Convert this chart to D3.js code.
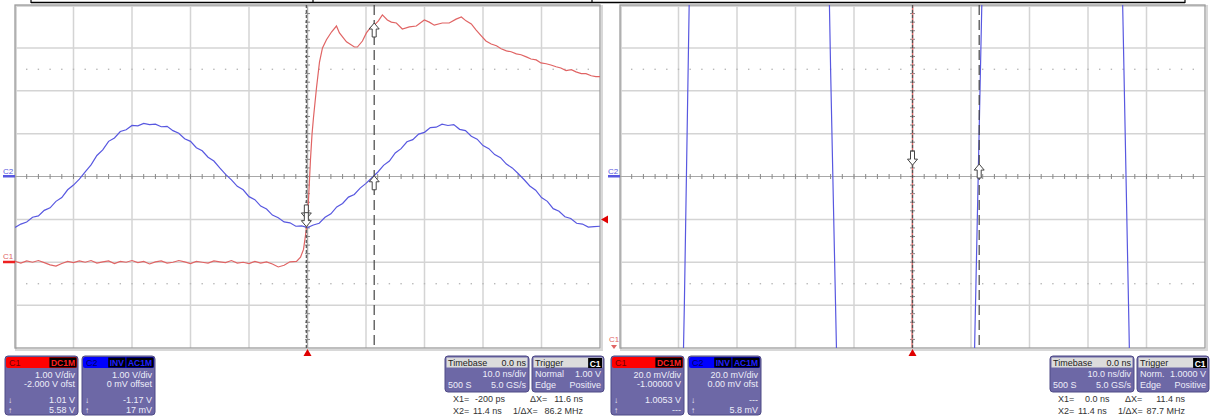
<!DOCTYPE html>
<html>
<head>
<meta charset="utf-8">
<script src="https://cdnjs.cloudflare.com/ajax/libs/d3/7.8.5/d3.min.js"></script>
<style>
  body { margin: 0; background: #fff; }
  svg text { font-family: "Liberation Sans", Arial, sans-serif; font-size: 9px; }
  .grid { stroke: #d4d4d4; stroke-width: 1.5; }
  .boxtext { fill: #eeeefa; }
  .readout { fill: #333; }
</style>
</head>
<body>
<svg width="1211" height="419"></svg>
<script>
// time axis, ns (10 ns/div, 10 divisions)
var timeDomain = [-50, 50];

// C1 (red) trace, [ns, V]
var c1Trace = [
  [-50, 0.02], [-49, -0.02], [-48, 0.03], [-47, 0.00], [-46, 0.04], [-45, -0.01],
  [-44, -0.06], [-43, -0.09], [-42, -0.03], [-41, 0.02], [-40, -0.01], [-39, 0.03],
  [-38, 0.00], [-37, 0.04], [-36, -0.02], [-35, 0.01], [-34, 0.03], [-33, -0.03],
  [-32, 0.02], [-31, 0.00], [-30, 0.04], [-29, -0.01], [-28, 0.02], [-27, -0.04],
  [-26, 0.01], [-25, 0.03], [-24, -0.02], [-23, 0.00], [-22, 0.04], [-21, 0.01],
  [-20, -0.03], [-19, 0.02], [-18, 0.00], [-17, -0.02], [-16, 0.03], [-15, 0.01],
  [-14, -0.01], [-13, 0.04], [-12, -0.02], [-11, 0.00], [-10, -0.03], [-9, 0.02],
  [-8, -0.02], [-7, 0.01], [-6, -0.04], [-5, -0.11], [-4, -0.07], [-3, 0.01],
  [-1.88, 0.02], [-1.19, 0.12], [-0.68, 0.30], [-0.34, 0.63], [0, 1.00],
  [0.26, 1.70], [0.51, 2.40], [0.77, 2.98], [1.02, 3.37], [1.54, 4.07],
  [2.05, 4.67], [2.56, 5.00], [3.24, 5.19], [4.10, 5.37], [4.95, 5.51],
  [5.46, 5.35], [6.66, 5.14], [8.02, 5.02], [8.53, 5.02], [9.39, 5.16],
  [10.07, 5.35], [10.75, 5.47], [11.43, 5.53], [12.12, 5.63], [12.80, 5.77],
  [13.65, 5.65], [14.33, 5.60], [15.19, 5.58], [16.21, 5.44], [17.41, 5.49],
  [18.60, 5.51], [19.97, 5.65], [20.82, 5.60], [21.67, 5.53], [23.04, 5.58],
  [24.23, 5.58], [25.4, 5.67], [26.3, 5.72], [27.1, 5.63], [28.0, 5.56],
  [28.8, 5.42], [29.7, 5.28], [30.5, 5.16], [31.4, 5.09], [32.3, 5.05],
  [33.1, 4.98], [34.0, 4.93], [34.8, 4.91], [35.7, 4.86], [36.5, 4.84],
  [37.4, 4.79], [38.2, 4.74], [39.1, 4.72], [39.9, 4.65], [40.8, 4.63],
  [41.6, 4.60], [42.5, 4.56], [43.3, 4.53], [44.2, 4.47], [45.1, 4.49],
  [45.9, 4.44], [46.8, 4.40], [47.6, 4.40], [48.5, 4.35], [49.3, 4.33], [50, 4.33]
];

// C2 (blue) trace, [ns, V]
var c2Trace = [
  [-50, -1.19], [-49, -1.11], [-48, -1.06], [-47, -0.95], [-46, -0.92], [-45, -0.79],
  [-44, -0.73], [-43, -0.58], [-42, -0.49], [-41, -0.31], [-40, -0.20], [-39, -0.06],
  [-38, 0.11], [-37, 0.27], [-36, 0.49], [-35, 0.62], [-34, 0.82], [-33, 0.90],
  [-32, 1.05], [-31, 1.09], [-30, 1.19], [-29, 1.18], [-28, 1.24], [-27, 1.21],
  [-26, 1.22], [-25, 1.16], [-24, 1.17], [-23, 1.07], [-22, 1.01], [-21, 0.88],
  [-20, 0.82], [-19, 0.67], [-18, 0.60], [-17, 0.45], [-16, 0.36], [-15, 0.20],
  [-14, 0.05], [-13, -0.08], [-12, -0.23], [-11, -0.31], [-10, -0.47], [-9, -0.54],
  [-8, -0.69], [-7, -0.76], [-6, -0.90], [-5, -0.96], [-4, -1.06], [-3, -1.08],
  [-2, -1.16], [-1, -1.15], [0, -1.19], [1, -1.13], [2, -1.09], [3, -0.95],
  [4, -0.87], [5, -0.71], [6, -0.63], [7, -0.48], [8, -0.42], [9, -0.27],
  [10, -0.16], [11, -0.03], [12, 0.10], [13, 0.26], [14, 0.36], [15, 0.55],
  [16, 0.65], [17, 0.81], [18, 0.86], [19, 0.99], [20, 1.03], [21, 1.14],
  [22, 1.15], [23, 1.22], [24, 1.19], [25, 1.21], [26, 1.10], [27, 1.07],
  [28, 0.94], [29, 0.87], [30, 0.72], [31, 0.65], [32, 0.51], [33, 0.44],
  [34, 0.29], [35, 0.20], [36, 0.07], [37, -0.07], [38, -0.22], [39, -0.32],
  [40, -0.49], [41, -0.58], [42, -0.75], [43, -0.81], [44, -0.94], [45, -0.98],
  [46, -1.09], [47, -1.11], [48, -1.18], [49, -1.17], [50, -1.16]
];

// per panel settings: [left, right]
var c1VoltsPerDiv = [1.0, 0.02];
var c1Offset = [-2.0, -1.0];
var c2VoltsPerDiv = [1.0, 0.02];
var c2Offset = [0, 0];
var cursorX1 = [-0.2, 0.0];
var cursorX2 = [11.4, 11.4];
var triggerLevel = [1.00, 1.0000];
// cursor readings [X1, X2] (null = not shown)
var c1Readings = [[1.01, 5.58], [1.0053, null]];
var c2Readings = [[-1.17, 0.017], [null, 0.0058]];

// info box texts
var c1BoxText = [
  ["1.00 V/div", "-2.000 V ofst", "1.01 V", "5.58 V"],
  ["20.0 mV/div", "-1.00000 V", "1.0053 V", "---"]
];
var c2BoxText = [
  ["1.00 V/div", "0 mV offset", "-1.17 V", "17 mV"],
  ["20.0 mV/div", "0.00 mV ofst", "---", "5.8 mV"]
];
var timebaseText = [["0.0 ns", "10.0 ns/div", "500 S", "5.0 GS/s"], ["0.0 ns", "10.0 ns/div", "500 S", "5.0 GS/s"]];
var triggerText = [["Normal", "1.00 V", "Edge", "Positive"], ["Norm.", "1.0000 V", "Edge", "Positive"]];
var cursorText = [
  ["-200 ps", "11.6 ns", "11.4 ns", "86.2 MHz"],
  ["0.0 ns", "11.4 ns", "11.4 ns", "87.7 MHz"]
];

var svg = d3.select("svg");
var plotTop = 5, plotBottom = 348;
var panelX = [[15, 600], [620, 1205]];
var chanBoxX = [[5, 82], [611, 688]];
var tbBoxX = [445, 1050];
var cursorTextX = [[8, 30, 85, 138, 8, 28, 68], [8, 35, 75, 135, 8, 28, 68]];
var red = "#e06464", blue = "#5858e0";
var boxFill = "#6d68a6", boxStroke = "#4f4a86";

// top table edge
svg.append("line").attr("x1", 31).attr("x2", 1185).attr("y1", 2.5).attr("y2", 2.5)
  .attr("stroke", "#000").attr("stroke-width", 1.5);
[31, 313, 592, 1185].forEach(function (xx) {
  svg.append("line").attr("x1", xx).attr("x2", xx).attr("y1", 0).attr("y2", 3)
    .attr("stroke", "#000").attr("stroke-width", 1.2);
});

function arrowPath(dir) {
  // tip at 0,0
  var s = dir === "up" ? 1 : -1;
  return "M0,0 L5," + (6 * s) + " L2," + (6 * s) + " L2," + (14 * s) + " L-2," + (14 * s) +
    " L-2," + (6 * s) + " L-5," + (6 * s) + " Z";
}

function interp(trace, t) {
  for (var k = 1; k < trace.length; k++) {
    if (trace[k][0] >= t) {
      var a = trace[k - 1], b = trace[k];
      return a[1] + (b[1] - a[1]) * (t - a[0]) / (b[0] - a[0]);
    }
  }
  return trace[trace.length - 1][1];
}

function drawPanel(i) {
  var x0 = panelX[i][0], x1 = panelX[i][1];
  var g = svg.append("g");
  var x = d3.scaleLinear().domain(timeDomain).range([x0, x1]);
  var div = d3.scaleLinear().domain([-4, 4]).range([plotBottom, plotTop]);
  var c1Mid = -c1Offset[i], c2Mid = -c2Offset[i];
  var yC1 = d3.scaleLinear().domain([c1Mid - 4 * c1VoltsPerDiv[i], c1Mid + 4 * c1VoltsPerDiv[i]]).range([plotBottom, plotTop]);
  var yC2 = d3.scaleLinear().domain([c2Mid - 4 * c2VoltsPerDiv[i], c2Mid + 4 * c2VoltsPerDiv[i]]).range([plotBottom, plotTop]);

  // shadow of the frame
  g.append("rect").attr("x", x0 + 1).attr("y", plotTop + 1).attr("width", x1 - x0 + 1).attr("height", plotBottom - plotTop + 1)
    .attr("fill", "none").attr("stroke", "#d8d8d8").attr("stroke-width", 2);

  // grid
  g.selectAll(".vg").data(d3.range(timeDomain[0] + 10, timeDomain[1], 10)).enter().append("line")
    .attr("class", "grid").attr("x1", x).attr("x2", x).attr("y1", plotTop).attr("y2", plotBottom);
  g.selectAll(".hg").data([-3, -2, -1, 1, 2, 3]).enter().append("line")
    .attr("class", "grid").attr("y1", div).attr("y2", div).attr("x1", x0).attr("x2", x1);

  // dotted lines at +-2.5 div
  [-2.5, 2.5].forEach(function (dv) {
    g.selectAll(null).data(d3.range(timeDomain[0] + 2, timeDomain[1], 2)).enter().append("rect")
      .attr("x", function (d) { return x(d) - 0.7; }).attr("y", div(dv) - 0.7)
      .attr("width", 1.4).attr("height", 1.4).attr("fill", "#b8b8b8");
  });

  // center axes with minor ticks
  g.append("line").attr("x1", x0).attr("x2", x1).attr("y1", div(0)).attr("y2", div(0))
    .attr("stroke", "#a8a8a8").attr("stroke-width", 1.2);
  g.append("line").attr("x1", x(0)).attr("x2", x(0)).attr("y1", plotTop).attr("y2", plotBottom)
    .attr("stroke", "#a8a8a8").attr("stroke-width", 1.2);
  g.selectAll(null).data(d3.range(timeDomain[0] + 2, timeDomain[1], 2)).enter().append("line")
    .attr("x1", x).attr("x2", x).attr("y1", div(0) - 2.5).attr("y2", div(0) + 2.5)
    .attr("stroke", "#888").attr("stroke-width", 1);
  g.selectAll(null).data(d3.range(-3.8, 4, 0.2)).enter().append("line")
    .attr("y1", div).attr("y2", div).attr("x1", x(0) - 2.5).attr("x2", x(0) + 2.5)
    .attr("stroke", "#888").attr("stroke-width", 1);

  // frame
  g.append("rect").attr("x", x0).attr("y", plotTop).attr("width", x1 - x0).attr("height", plotBottom - plotTop)
    .attr("fill", "none").attr("stroke", "#9c9c9c").attr("stroke-width", 1.3);

  // traces
  var clipId = "clip" + i;
  svg.append("defs").append("clipPath").attr("id", clipId).append("rect")
    .attr("x", x0).attr("y", plotTop).attr("width", x1 - x0).attr("height", plotBottom - plotTop);
  var tg = g.append("g").attr("clip-path", "url(#" + clipId + ")");
  tg.append("path").datum(c2Trace).attr("fill", "none").attr("stroke", blue).attr("stroke-width", 1.2)
    .attr("d", d3.line().x(function (d) { return x(d[0]); }).y(function (d) { return yC2(d[1]); }));
  tg.append("path").datum(c1Trace).attr("fill", "none").attr("stroke", red).attr("stroke-width", 1.2)
    .attr("d", d3.line().x(function (d) { return x(d[0]); }).y(function (d) { return yC1(d[1]); }));

  // cursors
  g.append("line").attr("x1", x(cursorX1[i])).attr("x2", x(cursorX1[i])).attr("y1", plotTop).attr("y2", plotBottom)
    .attr("stroke", "#555").attr("stroke-width", 1.2).attr("stroke-dasharray", "3,2");
  g.append("line").attr("x1", x(cursorX2[i])).attr("x2", x(cursorX2[i])).attr("y1", plotTop).attr("y2", plotBottom)
    .attr("stroke", "#444").attr("stroke-width", 1.2).attr("stroke-dasharray", "10,5");

  // cursor arrows
  var marks = [];
  [0, 1].forEach(function (k) {
    var t = k === 0 ? cursorX1[i] : cursorX2[i];
    var dir = k === 0 ? "down" : "up";
    if (c1Readings[i][k] !== null) marks.push({ x: x(t), y: yC1(c1Readings[i][k]), dir: dir });
    if (c2Readings[i][k] !== null) marks.push({ x: x(t), y: yC2(c2Readings[i][k]), dir: dir });
  });
  g.selectAll(".arr").data(marks).enter().append("path")
    .attr("transform", function (d) { return "translate(" + d.x + "," + d.y + ")"; })
    .attr("d", function (d) { return arrowPath(d.dir); })
    .attr("fill", "#fff").attr("stroke", "#444").attr("stroke-width", 1);

  // channel ground markers
  var gnd2 = yC2(0);
  g.append("text").attr("x", x0 - 12).attr("y", gnd2 - 3).attr("fill", blue).style("font-size", "8px").text("C2");
  g.append("rect").attr("x", x0 - 12).attr("y", gnd2 - 1.5).attr("width", 12).attr("height", 2.5).attr("fill", blue);
  var gnd1 = yC1(0);
  if (gnd1 <= plotBottom) {
    g.append("text").attr("x", x0 - 12).attr("y", gnd1 - 3).attr("fill", red).style("font-size", "8px").text("C1");
    g.append("rect").attr("x", x0 - 12).attr("y", gnd1 - 1.5).attr("width", 12).attr("height", 2.5).attr("fill", "#ee2020");
  } else {
    g.append("text").attr("x", x0 - 11).attr("y", plotBottom - 6).attr("fill", red).style("font-size", "8px").text("C1");
    g.append("path").attr("d", "M" + (x0 - 9) + "," + (plotBottom - 3) + " l3,4 l3,-4 Z").attr("fill", red);
  }

  // trigger position / level markers
  g.append("path").attr("d", "M" + x(0) + "," + (plotBottom + 1) + " l-4,7 l8,0 Z").attr("fill", "#e00000");
  if (i === 0) {
    var ty = yC1(triggerLevel[i]);
    g.append("path").attr("d", "M" + (x1 + 1) + "," + ty + " l7,-4 l0,8 Z").attr("fill", "#e00000");
  }

  // info boxes
  chanBox(chanBoxX[i][0], "#ff0000", "C1", "#700000", ["DC1M"], "#ff2020", c1BoxText[i]);
  chanBox(chanBoxX[i][1], "#0000ff", "C2", "#000060", ["INV", "AC1M"], "#2020ff", c2BoxText[i]);
  timebaseBox(tbBoxX[i], timebaseText[i]);
  triggerBox(tbBoxX[i] + 87, triggerText[i]);

  // cursor readouts
  var tb = tbBoxX[i], cx = cursorTextX[i], ct = cursorText[i];
  var r = svg.append("g").attr("class", "readout");
  r.append("text").attr("x", tb + cx[0]).attr("y", 402).attr("class", "readout").text("X1=");
  r.append("text").attr("x", tb + cx[1]).attr("y", 402).attr("class", "readout").text(ct[0]);
  r.append("text").attr("x", tb + cx[2]).attr("y", 402).attr("class", "readout").text("ΔX=");
  r.append("text").attr("x", tb + cx[3]).attr("y", 402).attr("class", "readout").attr("text-anchor", "end").text(ct[1]);
  r.append("text").attr("x", tb + cx[4]).attr("y", 414).attr("class", "readout").text("X2=");
  r.append("text").attr("x", tb + cx[5]).attr("y", 414).attr("class", "readout").text(ct[2]);
  r.append("text").attr("x", tb + cx[6]).attr("y", 414).attr("class", "readout").text("1/ΔX=");
  r.append("text").attr("x", tb + cx[3]).attr("y", 414).attr("class", "readout").attr("text-anchor", "end").text(ct[3]);
}

function badgeRow(g, right, y, badges, color) {
  var xr = right;
  badges.slice().reverse().forEach(function (b) {
    var t = g.append("text").attr("y", y + 8.5).attr("fill", color).attr("text-anchor", "end")
      .style("font-weight", "bold").style("font-size", "8.5px").text(b);
    var w = t.node().getComputedTextLength() + 3;
    g.insert("rect", "text").attr("x", xr - w).attr("y", y).attr("width", w).attr("height", 10).attr("fill", "#000");
    t.attr("x", xr - 1.5);
    xr -= w + 1;
  });
}

function chanBox(bx, color, name, nameColor, badges, badgeColor, rows) {
  var g = svg.append("g");
  var w = 73, y = 356, h = 59;
  g.append("rect").attr("x", bx).attr("y", y).attr("width", w).attr("height", h).attr("rx", 3)
    .attr("fill", boxFill).attr("stroke", boxStroke);
  g.append("rect").attr("x", bx + 1).attr("y", y + 1).attr("width", w - 2).attr("height", 11).attr("rx", 2).attr("fill", color);
  g.append("text").attr("x", bx + 4).attr("y", y + 10).attr("fill", nameColor).text(name);
  var bg = g.append("g");
  badgeRow(bg, bx + w - 1.5, y + 1.5, badges, badgeColor);
  var ys = [378, 387, 403, 413];
  rows.forEach(function (s, k) {
    g.append("text").attr("class", "boxtext").attr("x", bx + w - 3).attr("y", ys[k]).attr("text-anchor", "end").text(s);
  });
  g.append("text").attr("class", "boxtext").attr("x", bx + 3).attr("y", 403).style("font-size", "8px").text("↓");
  g.append("text").attr("class", "boxtext").attr("x", bx + 3).attr("y", 413).style("font-size", "8px").text("↑");
}

function timebaseBox(bx, txt) {
  var g = svg.append("g");
  var w = 84, y = 356, h = 36;
  g.append("rect").attr("x", bx).attr("y", y).attr("width", w).attr("height", h).attr("rx", 3)
    .attr("fill", boxFill).attr("stroke", boxStroke);
  g.append("rect").attr("x", bx + 1.5).attr("y", y + 1.5).attr("width", w - 3).attr("height", 10).attr("fill", "#dcdcdc");
  g.append("text").attr("x", bx + 3).attr("y", y + 10).attr("fill", "#222").text("Timebase");
  g.append("text").attr("x", bx + w - 3).attr("y", y + 10).attr("fill", "#222").attr("text-anchor", "end").text(txt[0]);
  g.append("text").attr("class", "boxtext").attr("x", bx + w - 3).attr("y", 377).attr("text-anchor", "end").text(txt[1]);
  g.append("text").attr("class", "boxtext").attr("x", bx + 3).attr("y", 388).text(txt[2]);
  g.append("text").attr("class", "boxtext").attr("x", bx + w - 3).attr("y", 388).attr("text-anchor", "end").text(txt[3]);
}

function triggerBox(bx, txt) {
  var g = svg.append("g");
  var w = 72, y = 356, h = 36;
  g.append("rect").attr("x", bx).attr("y", y).attr("width", w).attr("height", h).attr("rx", 3)
    .attr("fill", boxFill).attr("stroke", boxStroke);
  g.append("rect").attr("x", bx + 1.5).attr("y", y + 1.5).attr("width", w - 3).attr("height", 10).attr("fill", "#dcdcdc");
  g.append("text").attr("x", bx + 3).attr("y", y + 10).attr("fill", "#222").text("Trigger");
  var bg = g.append("g");
  badgeRow(bg, bx + w - 2, y + 2, ["C1"], "#fff");
  g.append("text").attr("class", "boxtext").attr("x", bx + 3).attr("y", 377).text(txt[0]);
  g.append("text").attr("class", "boxtext").attr("x", bx + w - 3).attr("y", 377).attr("text-anchor", "end").text(txt[1]);
  g.append("text").attr("class", "boxtext").attr("x", bx + 3).attr("y", 388).text(txt[2]);
  g.append("text").attr("class", "boxtext").attr("x", bx + w - 3).attr("y", 388).attr("text-anchor", "end").text(txt[3]);
}

drawPanel(0);
drawPanel(1);
</script>
</body>
</html>
